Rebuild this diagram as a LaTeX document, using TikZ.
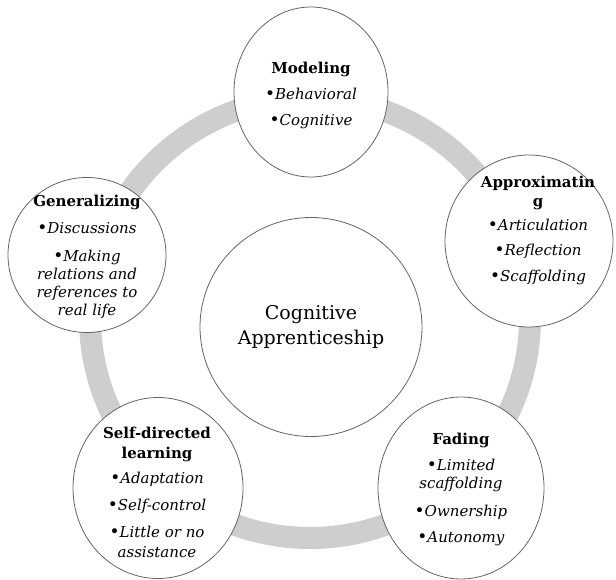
\documentclass[tikz,border=0pt]{standalone}
\usepackage{fontspec}
\setmainfont{DejaVu Serif}
\usetikzlibrary{shapes.geometric}
\definecolor{ringgray}{RGB}{206,206,206}
\definecolor{edgegray}{RGB}{100,100,100}
\newcommand{\cahd}[1]{\textbf{#1}}
\newcommand{\cabul}[1]{{\upshape\fontsize{17}{17}\selectfont•}\textit{#1}}
\begin{document}
\begin{tikzpicture}[x=1pt,y=-1pt,
  ring/.style={draw=ringgray, line width=22pt},
  bub/.style={ellipse, draw=edgegray, line width=0.8pt, fill=white, inner sep=0pt},
  txt/.style={align=center, inner sep=0pt, font=\fontsize{15}{18}\selectfont},
  ctxt/.style={align=center, inner sep=0pt, font=\fontsize{19}{25}\selectfont}]
\useasboundingbox[fill=white] (0,0) rectangle (616,580);
% ring
\coordinate (rc) at (310,318);
\draw[ring] (rc) circle[radius=220pt];
% central circle
\node[bub, minimum width=222pt, minimum height=219pt] (core) at (311,327) {};
\node[ctxt] (coretext) at (core.center) {Cognitive\\Apprenticeship};
% outer bubbles
\node[bub, minimum width=154pt, minimum height=170pt] (model) at (311,92) {};
\node[bub, minimum width=168pt, minimum height=172pt] (approx) at (529,241) {};
\node[bub, minimum width=166pt, minimum height=182pt] (fade) at (461,488) {};
\node[bub, minimum width=170pt, minimum height=181pt] (self) at (158,488) {};
\node[bub, minimum width=158pt, minimum height=155pt] (gen) at (87,255) {};
% texts
\node[txt] (modeltext) at (311,95) {\cahd{Modeling}\\[8pt]\cabul{Behavioral}\\[8pt]\cabul{Cognitive}};
\node[txt] (approxtext) at (538,230) {\cahd{Approximatin}\\[1pt]\cahd{g}\\[6pt]\cabul{Articulation}\\[7pt]\cabul{Reflection}\\[8pt]\cabul{Scaffolding}};
\node[txt] (gentext) at (87,257) {\cahd{Generalizing}\\[9pt]\cabul{Discussions}\\[10pt]\cabul{Making}\\\textit{relations and}\\\textit{references to}\\\textit{real life}};
\node[txt] (fadetext) at (461,489) {\cahd{Fading}\\[8pt]\cabul{Limited}\\\textit{scaffolding}\\[10pt]\cabul{Ownership}\\[8pt]\cabul{Autonomy}};
\node[txt] (selftext) at (157,492) {\cahd{Self-directed}\\[2pt]\cahd{learning}\\[7pt]\cabul{Adaptation}\\[9pt]\cabul{Self-control}\\[9pt]\cabul{Little or no}\\[2pt]\textit{assistance}};
\end{tikzpicture}
\end{document}
